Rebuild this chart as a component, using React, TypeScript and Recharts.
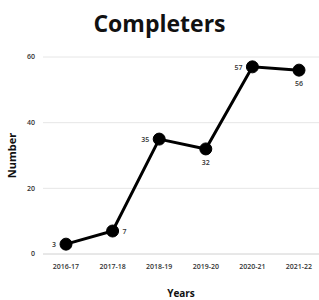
import { LineChart, Line, XAxis, YAxis, CartesianGrid, LabelList } from 'recharts'

const years = ['2016-17', '2017-18', '2018-19', '2019-20', '2020-21', '2021-22']
const completers = [3, 7, 35, 32, 57, 56]
const yTicks = [0, 20, 40, 60]

// where each value label sits relative to its dot
const labelSide = ['left', 'right', 'left', 'bottom', 'left', 'bottom']

const chartData = years.map((year, i) => ({ year, completers: completers[i] }))

const font = '"Open Sans", sans-serif'

function PointLabel(props: any) {
  const { x, y, value, index } = props
  const side = labelSide[index]
  let dx = 0
  let dy = 0
  let anchor: 'start' | 'end' | 'middle' = 'middle'
  if (side === 'left') { dx = -10; anchor = 'end'; dy = 3 }
  if (side === 'right') { dx = 10; anchor = 'start'; dy = 3 }
  if (side === 'bottom') { dy = 16 }
  return (
    <text x={x + dx} y={y + dy} textAnchor={anchor} fontSize={7} fontWeight={600} fill="#333" fontFamily={font}>
      {value}
    </text>
  )
}

export default function App() {
  return (
    <div style={{ position: 'absolute', left: 0, top: 0, width: 319, height: 300, background: '#fff', fontFamily: font }}>
      <div style={{ position: 'absolute', top: 7, left: 0, width: 319, textAlign: 'center', fontSize: 23, fontWeight: 700, color: '#111' }}>
        Completers
      </div>
      <LineChart width={319} height={300} data={chartData} margin={{ top: 57, right: 0, bottom: 0, left: 0 }}>
        <CartesianGrid vertical={false} stroke="#e6e6e6" />
        <XAxis
          dataKey="year"
          height={46}
          padding={{ left: 23, right: 20 }}
          tickLine={false}
          axisLine={{ stroke: '#dcdcdc' }}
          tick={{ fontSize: 7, fontWeight: 600, fill: '#333', fontFamily: font }}
          tickMargin={4}
          label={{ value: 'Years', position: 'insideBottom', offset: 3, fontSize: 10, fontWeight: 700, fill: '#111', fontFamily: font }}
        />
        <YAxis
          domain={[0, 60]}
          ticks={yTicks}
          width={43}
          tickLine={false}
          axisLine={false}
          tick={{ fontSize: 7, fontWeight: 600, fill: '#333', fontFamily: font }}
          tickMargin={2}
          label={{ value: 'Number', angle: -90, position: 'insideLeft', offset: 12, fontSize: 11, fontWeight: 700, fill: '#111', fontFamily: font, style: { textAnchor: 'middle' } }}
        />
        <Line
          type="linear"
          dataKey="completers"
          stroke="#000"
          strokeWidth={3}
          dot={{ r: 6, fill: '#000', stroke: '#000', strokeWidth: 1 }}
          isAnimationActive={false}
        >
          <LabelList dataKey="completers" content={<PointLabel />} />
        </Line>
      </LineChart>
    </div>
  )
}
